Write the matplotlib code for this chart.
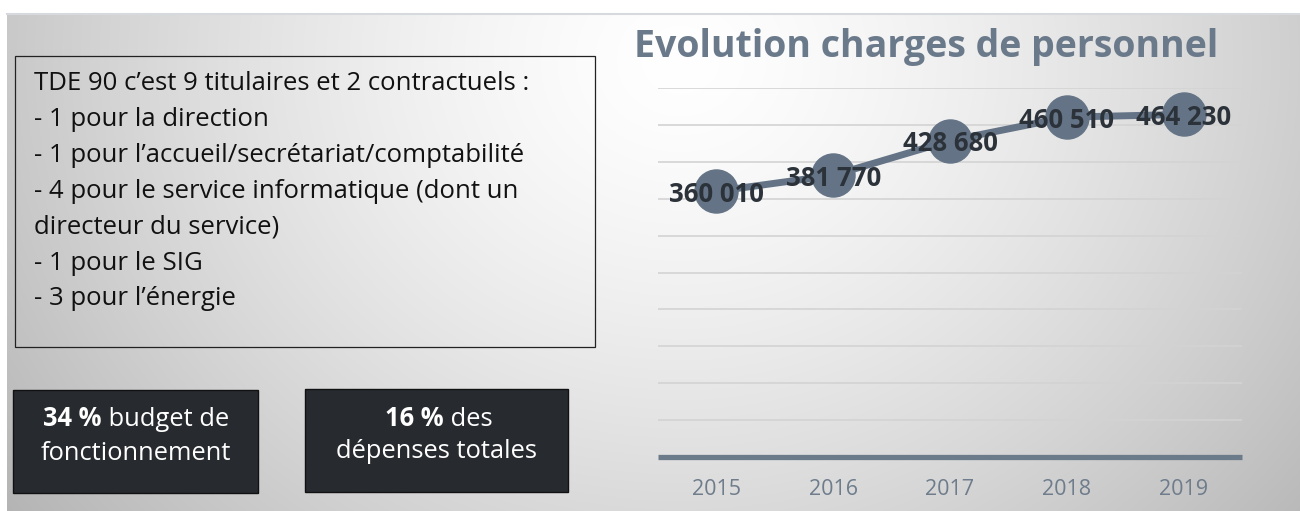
import numpy as np
import matplotlib
matplotlib.use('Agg')
import matplotlib.pyplot as plt
from matplotlib.patches import Rectangle

plt.rcParams['font.family'] = ['Open Sans', 'DejaVu Sans']

# données
annees = ['2015', '2016', '2017', '2018', '2019']
charges = [360010, 381770, 428680, 460510, 464230]

titre = 'Evolution charges de personnel'
lignes_effectif = [
    "TDE 90 c\u2019est 9 titulaires et 2 contractuels :",
    "- 1 pour la direction",
    "- 1 pour l\u2019accueil/secr\u00e9tariat/comptabilit\u00e9",
    "- 4 pour le service informatique (dont un",
    "directeur du service)",
    "- 1 pour le SIG",
    "- 3 pour l\u2019\u00e9nergie",
]
chiffres_cles = [('34 %', ' budget de', 'fonctionnement'),
                 ('16 %', ' des', 'd\u00e9penses totales')]

W, H = 1300, 511
fig = plt.figure(figsize=(W / 100, H / 100), dpi=100)

# fond en dégradé (repère en pixels)
bg = fig.add_axes([0, 0, 1, 1])
bg.set_xlim(0, W)
bg.set_ylim(H, 0)
bg.axis('off')
xx, yy = np.meshgrid(np.arange(W), np.arange(H))
r = np.sqrt(((xx - 680) / 800.0) ** 2 + ((yy - 60) / 700.0) ** 2)
gris = np.clip(1.0 - 0.27 * r ** 1.4, 0, 1)
bg.imshow(np.dstack([gris, gris, gris]), extent=(0, W, H, 0), aspect='auto', zorder=0)
bg.add_patch(Rectangle((0, 0), W, 14, facecolor='white', edgecolor='none', zorder=1))
bg.add_patch(Rectangle((0, 0), 7, H, facecolor='white', edgecolor='none', zorder=1))
bg.plot([7, W], [14.5, 14.5], color='#d6dadf', lw=1.5, zorder=2)

# encadré effectif
bg.add_patch(Rectangle((14.5, 56), 580, 291, facecolor='none', edgecolor='#222222', lw=0.9, zorder=3))
for i, ligne in enumerate(lignes_effectif):
    bg.text(34, 84 + i * 35.8, ligne, fontsize=18.5, color='#111111', va='center', ha='left', zorder=4)

# cases chiffres clés
cases = [(13, 390, 245, 103, 43), (305, 389, 263, 103, 385)]
for (x0, y0, w, h, xt), (gras, suite, ligne2) in zip(cases, chiffres_cles):
    bg.add_patch(Rectangle((x0, y0), w, h, facecolor='#272b2f', edgecolor='#111111', lw=1, zorder=3))
    t = bg.text(xt, y0 + 29, gras, fontsize=18.4, fontweight='bold', color='white', va='center', ha='left', zorder=4)
    bg.annotate(suite, xy=(1, 0), xycoords=t, va='bottom', ha='left', fontsize=18.4, color='white', zorder=4)
    bg.text(x0 + w / 2, y0 + 63, ligne2, fontsize=18.4, color='white', va='center', ha='center', zorder=4)

# titre
bg.text(634, 57, titre, fontsize=27, fontweight='bold', color='#6b7a8b', va='baseline', ha='left', zorder=4)

# graphique
ax = fig.add_axes([658 / W, 1 - 457 / H, 584 / W, 369 / H])
ax.patch.set_alpha(0)
x = np.arange(len(annees))
ax.plot(x, charges, color='#647486', lw=5, marker='o', ms=31, mfc='#647486', mec='#647486',
        zorder=3, clip_on=False, solid_capstyle='round')
for xi, v in zip(x, charges):
    ax.text(xi, v, f'{v:,}'.replace(',', ' '), fontsize=18.5, fontweight='bold', color='#2c3239',
            ha='center', va='center_baseline', zorder=4)
ax.set_xlim(-0.5, len(annees) - 0.5)
ax.set_ylim(0, 500000)
ax.set_yticks(np.arange(50000, 500001, 50000))
ax.yaxis.grid(True, color='#d3d3d3', lw=1.2)
ax.set_axisbelow(True)
ax.axhline(0, color='#6c7b8a', lw=3.8, zorder=2, clip_on=False, solid_capstyle='butt')
ax.set_xticks(x)
ax.set_xticklabels(annees)
ax.tick_params(axis='x', length=0, pad=16, labelsize=15.5, labelcolor='#6e7c8b')
ax.tick_params(axis='y', length=0, labelleft=False)
for s in ax.spines.values():
    s.set_visible(False)

fig.savefig('out.png', dpi=100)
